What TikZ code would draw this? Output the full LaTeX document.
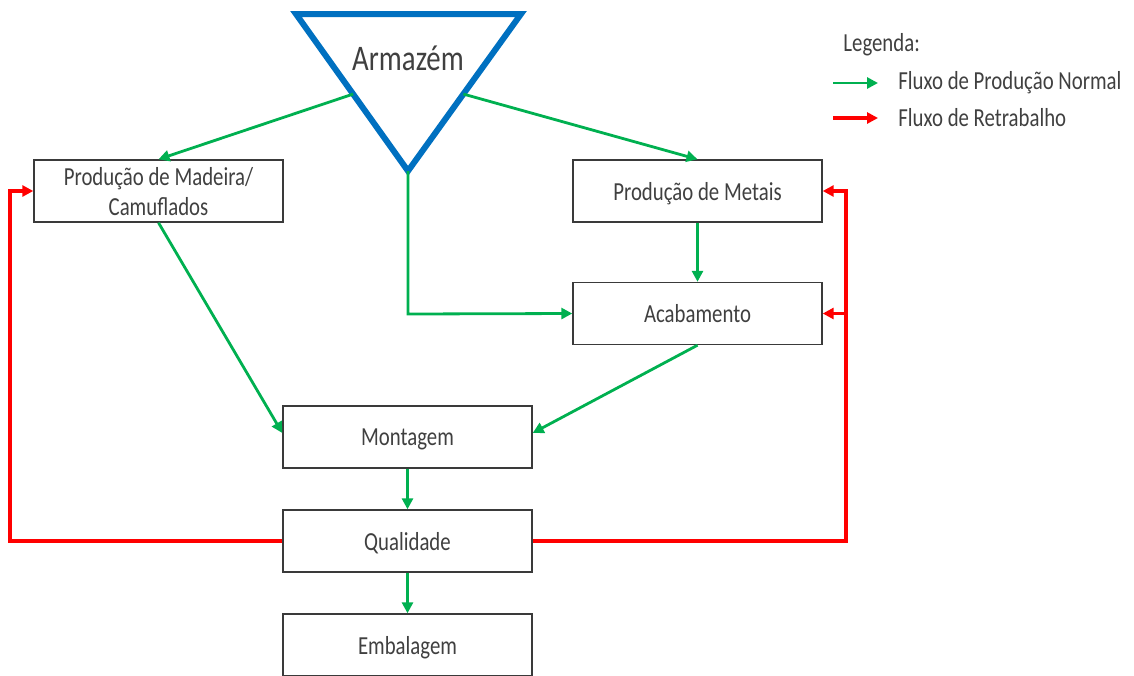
\documentclass[tikz,border=0pt]{standalone}
\usepackage{fontspec}
\setmainfont{Carlito}[FakeStretch=0.8]
\usetikzlibrary{arrows.meta,calc}
\definecolor{flowgreen}{HTML}{00B050}
\definecolor{flowred}{HTML}{FF0000}
\definecolor{storeblue}{HTML}{0070C0}
\definecolor{boxgray}{HTML}{3A3A3A}
\definecolor{textgray}{HTML}{404040}
\begin{document}
\begin{tikzpicture}[x=0.5pt,y=-0.5pt,
  stage/.style={draw=boxgray,line width=0.7pt,fill=white,minimum width=124.5pt,minimum height=31pt,
    inner sep=0pt,text depth=0pt,text=textgray,font=\fontsize{13}{15}\selectfont,align=center},
  normal/.style={draw=flowgreen,line width=1.4pt,-{Triangle[length=5.5pt,width=5.5pt]}},
  rework/.style={draw=flowred,line width=1.6pt,-{Triangle[length=5.5pt,width=5.5pt]}},
  legendtext/.style={text=textgray,font=\fontsize{13}{15}\selectfont,anchor=west,inner sep=0pt}]
\clip (0,0) rectangle (1134,675);
\useasboundingbox (0,0) rectangle (1134,675);

% process stages
\node[stage] (madeira) at (158.5,191) {Produção de Madeira/\\Camuflados};
\node[stage] (metais) at (697.5,191) {Produção de Metais};
\node[stage] (acab) at (697.5,313.5) {Acabamento};
\node[stage] (mont) at (407.5,437) {Montagem};
\node[stage] (qual) at (407.5,541) {Qualidade};
\node[stage] (emb) at (407.5,645) {Embalagem};

% warehouse (inverted triangle)
\coordinate (tl) at (296,14);
\coordinate (tr) at (521,14);
\coordinate (tb) at (408,171);
\draw[storeblue,line width=3pt,line join=miter] (tl) -- (tr) -- (tb) -- cycle;
\node[text=textgray,font=\fontsize{18}{21}\selectfont] (arm) at (408,58) {Armazém};
\coordinate (outl) at ($(tl)!0.51!(tb)$);
\coordinate (outr) at ($(tr)!0.51!(tb)$);
\coordinate (turn) at (408,314);

% normal production flow
\draw[normal] (outl) -- (madeira.north);
\draw[normal] (outr) -- (metais.north);
\draw[normal] (tb) -- (turn) -- (acab.west);
\draw[normal] (metais) -- (acab);
\draw[normal] (madeira.south) -- ($(mont.west)+(0,-4)$);
\draw[normal] (acab.south) -- ($(mont.east)+(0,-4)$);
\draw[normal] (mont) -- (qual);
\draw[normal] (qual) -- (emb);

% rework flow
\coordinate (lrail) at (10,541);
\coordinate (rrail) at (846,541);
\draw[rework] (qual.west) -- (lrail) |- (madeira.west);
\draw[rework] (qual.east) -- (rrail) |- (metais.east);
\draw[rework] (rrail |- acab.east) -- (acab.east);

% legend
\node[legendtext] (leg) at (843,45) {Legenda:};
\coordinate (g0) at (833,83);
\coordinate (g1) at (878,83);
\coordinate (r0) at (833,118);
\coordinate (r1) at (878,118);
\draw[normal] (g0) -- (g1);
\draw[rework] (r0) -- (r1);
\node[legendtext] (legn) at (898,83) {Fluxo de Produção Normal};
\node[legendtext] (legr) at (898,118) {Fluxo de Retrabalho};
\end{tikzpicture}
\end{document}
